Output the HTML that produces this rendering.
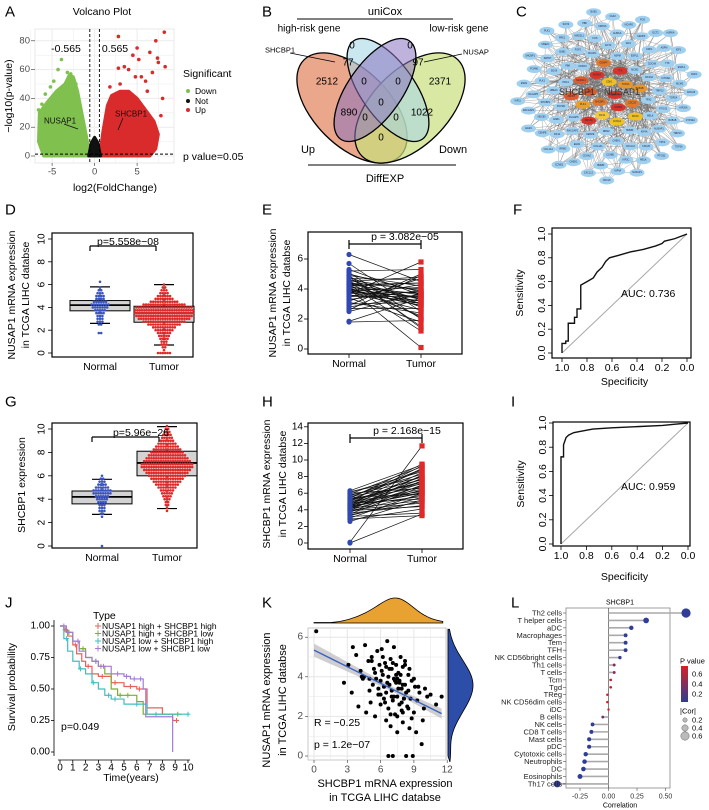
<!DOCTYPE html>
<html><head><meta charset="utf-8"><style>
html,body{margin:0;padding:0;background:#fff}
svg{display:block;font-family:"Liberation Sans",Arial,sans-serif}
</style></head><body>
<svg id="fig" width="709" height="810" viewBox="0 0 709 810">
<g stroke="#000" stroke-width="1.3">
<ellipse cx="352" cy="108" rx="68" ry="38" transform="rotate(45 352 108)" fill="#e48a64" fill-opacity="0.75"/>
<ellipse cx="410" cy="108" rx="68" ry="38" transform="rotate(-45 410 108)" fill="#c9df7e" fill-opacity="0.7"/>
<ellipse cx="388" cy="90" rx="60" ry="27" transform="rotate(55 388 90)" fill="#a9d7e6" fill-opacity="0.6"/>
<ellipse cx="375" cy="90" rx="60" ry="27" transform="rotate(-55 375 90)" fill="#8a73c0" fill-opacity="0.55"/>
</g>
</svg>
<script>
const NS='http://www.w3.org/2000/svg';
const svg=document.getElementById('fig');
function mk(parent,tag,attrs,name){
  const el=document.createElementNS(NS,tag);
  for(const k in attrs) el.setAttribute(k,attrs[k]);
  
  
  parent.appendChild(el);return el;
}
function T(x,y,s,size,name,extra){
  const a=Object.assign({x:x,y:y,'font-size':size,'dominant-baseline':'central',fill:'#000'},extra||{});
  const t=mk(svg,'text',a,name);t.textContent=s;return t;
}
function L(x1,y1,x2,y2,stroke,w,name,extra){return mk(svg,'line',Object.assign({x1,y1,x2,y2,stroke,'stroke-width':w},extra||{}),name);}

/* ===== DATA ===== */
const volcGreenFC=[-0.6,-0.7,-1,-1.5,-2,-2.5,-3,-3.5,-4.5,-5.5,-6.5,-6.6,-6];
const volcGreenP=[0,5,15,30,45,55,56,50,45,38,30,10,0];
const volcRedFC=[0.6,0.7,1,1.5,2,3,4,5,6,7,7.5,7.2,6.5];
const volcRedP=[0,5,18,35,42,45,45,40,32,24,15,5,0];
const volcNotFC=[-0.7,-0.4,0,0.4,0.7];
const volcNotP=[0,9,13,9,0];
const volcGreenOutFC=[-3.9,-4.3,-5.8,-6.6,-5.2,-3.2,-2.8,-6.2,-4.8,-2.2];
const volcGreenOutP=[67,60,43,32,48,58,57,36,52,50];
const volcRedOutFC=[2.8,7.2,8.2,7.4,5.2,8.3,2.8,4.5,6.5,3.5,6,7.5,5.5,4,3,6.2,4.8,1.8,8,7.8,6.8,5];
const volcRedOutP=[83,80,86,68,67,62,61,70,72,62,52,65,55,60,50,45,55,48,40,28,58,75];

const dNormalBins=[2,0,0,2,3,3,3,4,5,7,8,6,4,4,3,2,1,0,1];
const dTumorBins=[6,1,2,3,3,4,5,6,8,10,14,18,22,24,26,26,24,18,12,8,6,4,3,2,1];
const gNormalBins=[1,2,3,3,3,4,5,6,8,8,6,4,3,2,1];
const gTumorBins=[1,1,2,2,3,4,5,6,8,10,12,14,16,18,20,22,22,20,18,16,14,12,10,8,6,5,4,3,2,1];
const dNormalBox=[2.6,3.7,4.2,4.6,5.8];
const dTumorBox=[0.7,2.7,3.5,4.1,6.0];
const gNormalBox=[2.7,3.6,4.2,4.7,5.7];
const gTumorBox=[3.2,6.0,7.1,8.1,10.2];

const eNormal=[6.3,5.7,5.2,5.0,4.9,4.8,4.7,4.6,4.5,4.5,4.4,4.4,4.3,4.3,4.2,4.2,4.1,4.1,4.0,4.0,3.9,3.9,3.8,3.8,3.7,3.7,3.6,3.5,3.4,3.3,3.2,3.1,3.0,2.9,2.8,2.7,2.6,1.8,4.6,4.8,5.1,4.3,3.9,4.0,2.5,3.5,4.9,5.3,1.85,4.4];
const eTumor=[4.5,2.5,5.3,3.8,4.2,1.5,4.6,3.9,4.8,2.8,3.3,4.0,3.6,1.2,3.0,4.4,2.2,3.7,0.1,3.4,2.9,4.1,3.5,2.6,3.8,5.8,3.2,4.3,1.8,3.9,4.7,2.4,3.1,5.0,3.6,2.7,4.9,1.9,3.3,3.0,2.0,4.4,3.2,2.9,3.7,3.5,1.4,3.6,3.4,2.1];
const hNormal=[0.1,0.0,2.6,2.8,3.0,3.2,3.3,3.5,3.6,3.7,3.8,3.9,4.0,4.0,4.1,4.2,4.2,4.3,4.4,4.4,4.5,4.5,4.6,4.7,4.7,4.8,4.9,5.0,5.0,5.1,5.2,5.3,5.4,5.5,5.6,5.7,5.8,5.9,6.0,6.1,6.2,6.3,3.4,4.6,5.2,3.9,4.8,2.9,5.5,4.3];
const hTumor=[11.7,3.5,5.2,4.1,6.0,3.6,5.5,6.8,4.5,7.0,5.8,8.2,6.4,4.8,7.5,5.1,6.9,7.8,6.0,8.5,5.6,7.2,9.0,6.5,7.7,5.3,8.0,9.3,6.2,7.4,8.8,6.7,9.5,5.9,7.1,8.3,7.6,9.2,6.6,8.6,7.9,9.4,5.0,6.3,7.3,4.4,8.1,3.3,8.9,6.1];

const fSpec=[1,1,0.97,0.97,0.95,0.95,0.9,0.9,0.88,0.88,0.85,0.85,0.8,0.75,0.72,0.68,0.65,0.62,0.55,0.45,0.35,0.25,0.2,0.18,0.1,0.05,0];
const fSens=[0,0.08,0.08,0.1,0.1,0.25,0.25,0.3,0.3,0.37,0.37,0.57,0.6,0.63,0.68,0.72,0.77,0.8,0.82,0.85,0.87,0.9,0.92,0.94,0.96,0.98,1];
const iSpec=[1,1,0.98,0.98,0.97,0.96,0.94,0.9,0.85,0.75,0.6,0.4,0.2,0.1,0];
const iSens=[0,0.72,0.72,0.82,0.85,0.88,0.9,0.92,0.93,0.95,0.96,0.97,0.98,0.99,1];

const kmLabels=['NUSAP1 high + SHCBP1 high','NUSAP1 high + SHCBP1 low','NUSAP1 low + SHCBP1 high','NUSAP1 low + SHCBP1 low'];
const kmColors=['#e8605a','#7cae2e','#3fbfbf','#a77ad8'];
const kmT1=[0,0.3,0.6,1,1.3,1.7,2,2.5,3,4,5,6,6.8,8,8.8,9.3];
const kmS1=[1,0.97,0.92,0.85,0.78,0.72,0.68,0.62,0.6,0.55,0.52,0.5,0.35,0.3,0.25,0.25];
const kmT2=[0,0.5,1,1.5,2,2.5,3,3.5,4,4.5,6,6.5,9.5];
const kmS2=[1,0.95,0.88,0.82,0.75,0.72,0.68,0.62,0.5,0.45,0.4,0.3,0.3];
const kmT3=[0,0.3,0.6,1,1.5,2,2.5,3,3.5,4,5,6.8,10];
const kmS3=[1,0.9,0.8,0.72,0.66,0.62,0.55,0.5,0.45,0.42,0.38,0.3,0.3];
const kmT4=[0,0.5,1,1.5,2,2.5,3,4,5,5.5,6.5,6.7,8.8,8.8];
const kmS4=[1,0.95,0.88,0.8,0.75,0.72,0.68,0.62,0.6,0.58,0.5,0.28,0.28,0];
const kmCensor=[[0.4,1.2,2.2,3.3,4.3,5.5,6.2,9.1],[0.7,1.8,2.8,3.2,4.7,5.3,9.2],[0.5,1.6,2.6,3.8,4.3,6,7.5,10],[0.3,1.4,2.8,3.4,4.5,5.2,5.8,6.3]];

const kX=[0.2,2.7,3.1,3.4,3.8,4.0,4.2,4.4,4.6,4.7,4.9,5.0,5.1,5.2,5.3,5.4,5.5,5.6,5.7,5.8,5.9,6.0,6.0,6.1,6.2,6.3,6.3,6.4,6.5,6.5,6.6,6.7,6.7,6.8,6.9,6.9,7.0,7.0,7.1,7.2,7.2,7.3,7.4,7.4,7.5,7.5,7.6,7.7,7.7,7.8,7.9,7.9,8.0,8.0,8.1,8.2,8.2,8.3,8.4,8.5,8.5,8.6,8.7,8.8,8.9,9.0,9.1,9.2,9.3,9.5,9.7,9.9,10.2,10.5,11.0,11.5,5.0,5.5,6.0,6.5,7.0,7.5,8.0,8.5,9.0,6.2,6.8,7.3,7.8,8.3,5.8,6.4,7.1,7.6,8.1,8.6,4.5,5.2,6.6,7.2,7.9,8.8,9.4,6.9,7.4,8.2,6.7,7.1,7.5,8.0,3.5,4.3,9.8,10.0,6.1,7.7];
const kY=[6.3,3.7,4.6,3.2,5.1,2.5,4.3,3.9,5.6,2.2,4.8,3.3,2.7,5.0,3.6,4.4,2.0,3.9,5.3,3.1,4.6,2.6,3.8,5.4,4.1,2.9,3.5,4.7,1.8,3.2,5.8,4.0,2.4,3.6,4.9,1.5,3.3,4.4,2.8,3.9,5.5,2.1,3.7,4.6,1.2,3.0,4.2,2.6,3.8,5.0,2.3,3.4,4.5,1.7,2.9,3.6,4.8,0.0,2.5,3.3,4.1,1.4,2.9,3.8,0.0,2.2,3.5,1.2,2.8,3.2,0.6,2.4,3.0,3.1,2.6,3.0,3.9,4.2,3.1,4.5,3.0,2.0,3.6,2.4,3.9,5.0,4.4,3.8,4.1,3.2,3.4,2.7,4.7,3.4,2.9,4.4,4.0,4.8,3.7,3.0,2.7,1.9,3.5,2.1,4.1,4.6,0.0,0.0,3.9,2.2,5.5,4.0,1.8,3.4,4.3,3.7];

const lCells=['Th2 cells','T helper cells','aDC','Macrophages','Tem','TFH','NK CD56bright cells','Th1 cells','T cells','Tcm','Tgd','TReg','NK CD56dim cells','iDC','B cells','NK cells','CD8 T cells','Mast cells','pDC','Cytotoxic cells','Neutrophils','DC','Eosinophils','Th17 cells'];
const lCor=[0.68,0.33,0.2,0.15,0.15,0.15,0.1,0.05,0.05,0.02,0.02,-0.01,-0.01,0,-0.05,-0.14,-0.15,-0.17,-0.17,-0.2,-0.21,-0.22,-0.25,-0.45];
const lP=[0,0,0,0,0,0,0.05,0.35,0.35,0.6,0.65,0.75,0.8,0.9,0.3,0,0,0,0,0,0,0,0,0];
const corTicks=[-0.25,0,0.25,0.5];

const netGenes=['NUSAP1','SHCBP1','CDK1','CCNB1','BUB1','TOP2A','KIF11','AURKA','CDC20','PLK1','TTK','CCNA2','MAD2L1','BUB1B','NDC80','CENPF','KIF2C','ZWINT','MCM2','RRM2','CDKN3','TPX2','DLGAP5','ASPM','HMMR','PRC1','KIF20A','CENPE','NCAPG','MELK','FOXM1','ESPL1','CHEK1','PBK','TRIP13','RACGAP1','ECT2','KIF4A','UBE2C','CDCA8','COL1A1','FGF2','PTGS2','ESR1','IGF1','CXCL12','SOX9','CYP2E1','EGR1','FOS'];

/* ===== PANEL LETTERS ===== */
[['A',5,12],['B',262,12],['C',516,12],['D',5,210],['E',262,210],['F',513,210],['G',5,402],['H',262,402],['I',511,402],['J',5,603],['K',262,603],['L',511,603]].forEach(p=>{
  const t=T(p[1],p[2],p[0],15,'panel-label-'+p[0].toLowerCase());
});

/* ===== PANEL A VOLCANO ===== */
const xA=v=>94.6+8.5*v, yA=v=>156-1.44*v;
mk(svg,'rect',{x:35,y:29,width:139,height:134,fill:'#fff',stroke:'#d9d9d9','stroke-width':0.6},'volcano-panel');
[-7.5,-5,-2.5,0,2.5,5,7.5].forEach(v=>{L(xA(v),29,xA(v),163,'#ececec',v%5===0?1:0.5,'volcano-grid-x');});
[0,10,20,30,40,50,60,70,80].forEach(v=>{L(35,yA(v),174,yA(v),'#ececec',v%20===0?1:0.5,'volcano-grid-y');});
function poly(xs,ys,fx,fy,fill,name){
  const pts=xs.map((x,i)=>fx(x)+','+fy(ys[i])).join(' ');
  return mk(svg,'polygon',{points:pts,fill:fill,stroke:fill,'stroke-width':3,'stroke-linejoin':'round'},name);
}
poly(volcGreenFC,volcGreenP,xA,yA,'#7fc04e','volcano-down-cloud');
poly(volcRedFC,volcRedP,xA,yA,'#d92b2b','volcano-up-cloud');
poly(volcNotFC,volcNotP,xA,yA,'#111','volcano-not-cloud');
volcGreenOutFC.forEach((v,i)=>{mk(svg,'circle',{cx:xA(v),cy:yA(volcGreenOutP[i]),r:1.8,fill:'#7fc04e'},'volcano-down-point');});
volcRedOutFC.forEach((v,i)=>{mk(svg,'circle',{cx:xA(v),cy:yA(volcRedOutP[i]),r:1.8,fill:'#d92b2b'},'volcano-up-point');});
L(xA(-0.565),29,xA(-0.565),163,'#000',0.9,'volcano-threshold-left',{'stroke-dasharray':'3,2'});
L(xA(0.565),29,xA(0.565),163,'#000',0.9,'volcano-threshold-right',{'stroke-dasharray':'3,2'});
L(35,yA(1.3),174,yA(1.3),'#000',0.9,'volcano-pvalue-line',{'stroke-dasharray':'3,2'});
[0,20,40,60,80].forEach(v=>{T(30,yA(v),String(v),9.5,'volcano-y-tick',{'text-anchor':'end',fill:'#4d4d4d'});L(31,yA(v),35,yA(v),'#333',0.6,'volcano-y-tickmark');});
[-5,0,5].forEach(v=>{T(xA(v),172,String(v),9.5,'volcano-x-tick',{'text-anchor':'middle',fill:'#4d4d4d'});L(xA(v),163,xA(v),166,'#333',0.6,'volcano-x-tickmark');});
T(102,12,'Volcano Plot',10.5,'volcano-title',{'text-anchor':'middle'});
T(66,49,'-0.565',10.5,'volcano-left-threshold-label',{'text-anchor':'middle'});
T(115,49,'0.565',10.5,'volcano-right-threshold-label',{'text-anchor':'middle'});
T(115,188,'log2(FoldChange)',10.5,'volcano-x-title',{'text-anchor':'middle'});
T(9,96,'−log10(p-value)',10.5,'volcano-y-title',{'text-anchor':'middle',transform:'rotate(-90 9 96)'});
T(183,74,'Significant',10.5,'volcano-legend-title');
[['Down','#7fc04e',91],['Not','#111',101],['Up','#d92b2b',110]].forEach(e=>{mk(svg,'circle',{cx:188,cy:e[2],r:2,fill:e[1]},'volcano-legend-dot');T(195,e[2],e[0],8.5,'volcano-legend-label');});
T(183,157,'p value=0.05',10.5,'volcano-pvalue-label');
T(44,121,'NUSAP1',8,'nusap1-annotation',{fill:'#111'});
L(64,124,78,129,'#111',0.8,'nusap1-arrow');
T(115,114,'SHCBP1',8,'shcbp1-annotation',{fill:'#111'});
L(123,118,118,130,'#111',0.8,'shcbp1-arrow');

/* ===== PANEL B VENN text ===== */
T(385,12,'uniCox',11,'venn-unicox-title',{'text-anchor':'middle'});
L(297,19,453,19,'#000',1,'venn-unicox-line');
T(309,29,'high-risk gene',10,'venn-high-risk-label',{'text-anchor':'middle'});
T(459,29,'low-risk gene',10,'venn-low-risk-label',{'text-anchor':'middle'});
T(265,50,'SHCBP1',7.5,'venn-shcbp1-label');
L(290,53,335,62,'#000',0.8,'venn-shcbp1-arrow');
T(463,52,'NUSAP',7.5,'venn-nusap-label');
L(462,54,424,62,'#000',0.8,'venn-nusap-arrow');
[['0',352,46],['0',410,46],['77',348,63],['97',418,63],['2512',327,82],['0',364,82],['0',398,82],['2371',440,82],['0',381,103],['890',349,113],['1022',422,113],['0',365,118],['0',396,118],['0',381,138]].forEach(n=>{T(n[1],n[2],n[0],10,'venn-count',{'text-anchor':'middle'});});
T(308,150,'Up',11,'venn-up-label',{'text-anchor':'middle'});
T(453,150,'Down',11,'venn-down-label',{'text-anchor':'middle'});
L(308,165,456,165,'#000',1,'venn-diffexp-line');
T(385,179,'DiffEXP',11,'venn-diffexp-title',{'text-anchor':'middle'});

/* ===== PANEL C NETWORK ===== */
(function(){
  const n=110, cx=608, cy=95, Rx=92, Ry=86;
  const pos=[];
  for(let i=0;i<n;i++){
    const r=Math.sqrt((i+0.6)/n), a=i*2.39996;
    pos.push([cx+Rx*r*Math.cos(a), cy+Ry*r*Math.sin(a)]);
  }
  const eg=mk(svg,'g',{stroke:'#6a6a6a','stroke-width':0.35,'stroke-opacity':0.8},'network-edges');
  for(let i=0;i<n;i++){
    const targets=[(i*37+11)%n,(i*13+5)%n,(i*7+3)%30];
    if(i<30){for(let k=0;k<8;k++) targets.push((i*11+k*17+4)%n);}
    targets.forEach(j=>{if(j!==i){const e=mk(eg,'line',{x1:pos[i][0],y1:pos[i][1],x2:pos[j][0],y2:pos[j][1]},'network-edge');}});
  }
  const hubColors=['#d8342a','#e07a2a','#f0c020','#d8342a','#e05a2a','#e8962a','#f2c83a','#d8342a','#e07a2a','#e8a02a','#d8342a','#f0c020','#e05a2a','#e8962a','#d8342a','#e07a2a','#f0c020','#e05a2a'];
  for(let i=0;i<n;i++){
    const fill=i<18?hubColors[i]:'#9fd0f0';
    const nd=mk(svg,'ellipse',{cx:pos[i][0],cy:pos[i][1],rx:7.5,ry:4,fill:fill},'network-node');
    T(pos[i][0],pos[i][1],netGenes[i%netGenes.length],2.4,'network-node-label',{'text-anchor':'middle',fill:'#224'});
  }
  T(577,92,'SHCBP1',9,'network-shcbp1-label',{'text-anchor':'middle',fill:'#333'});
  T(622,92,'NUSAP1',9,'network-nusap1-label',{'text-anchor':'middle',fill:'#333'});
})();

/* ===== BOX + BEESWARM ===== */
function boxPanel(cfg){
  const y=cfg.y;
  mk(svg,'rect',{x:cfg.x0,y:cfg.y0,width:cfg.x1-cfg.x0,height:cfg.y1-cfg.y0,fill:'none',stroke:'#000','stroke-width':1.2},cfg.p+'-frame');
  cfg.ticks.forEach(v=>{L(cfg.x0-4,y(v),cfg.x0,y(v),'#000',0.8,cfg.p+'-y-tickmark');T(cfg.x0-10,y(v),String(v),10,cfg.p+'-y-tick',{'text-anchor':'middle',transform:'rotate(-90 '+(cfg.x0-10)+' '+y(v)+')'});});
  [[cfg.xn,'Normal',cfg.nBox],[cfg.xt,'Tumor',cfg.tBox]].forEach(g=>{
    const b=g[2],xc=g[0],w=30;
    L(xc-10,y(b[0]),xc+10,y(b[0]),'#000',1.2,cfg.p+'-whisker-cap');
    L(xc-10,y(b[4]),xc+10,y(b[4]),'#000',1.2,cfg.p+'-whisker-cap');
    L(xc,y(b[0]),xc,y(b[1]),'#000',0.8,cfg.p+'-whisker',{'stroke-dasharray':'3,2'});
    L(xc,y(b[3]),xc,y(b[4]),'#000',0.8,cfg.p+'-whisker',{'stroke-dasharray':'3,2'});
    mk(svg,'rect',{x:xc-w,y:y(b[3]),width:2*w,height:y(b[1])-y(b[3]),fill:'#d3d3d3',stroke:'#000','stroke-width':1},cfg.p+'-box');
    L(xc-w,y(b[2]),xc+w,y(b[2]),'#000',1.8,cfg.p+'-median');
    T(xc,cfg.y1+10,g[1],10.5,cfg.p+'-x-tick',{'text-anchor':'middle'});
  });
  function swarm(bins,start,xc,color,name){
    bins.forEach((c,i)=>{
      const v=start+i*0.25;const sp=Math.min(2.4,60/Math.max(c,1));
      for(let k=0;k<c;k++){mk(svg,'circle',{cx:xc+(k-(c-1)/2)*sp,cy:y(v),r:1.3,fill:color},name);}
    });
  }
  swarm(cfg.nBins,cfg.nStart,cfg.xn,'#3b55c0',cfg.p+'-normal-point');
  swarm(cfg.tBins,cfg.tStart,cfg.xt,'#e02a2a',cfg.p+'-tumor-point');
  (cfg.nOut||[]).forEach(v=>mk(svg,'circle',{cx:cfg.xn,cy:y(v),r:1.3,fill:'#3b55c0'},cfg.p+'-normal-point'));
  L(cfg.xn-10,cfg.by,cfg.xt-8,cfg.by,'#000',1.2,cfg.p+'-bracket');
  L(cfg.xn-10,cfg.by,cfg.xn-10,cfg.by+5,'#000',1.2,cfg.p+'-bracket');
  L(cfg.xt-8,cfg.by,cfg.xt-8,cfg.by+5,'#000',1.2,cfg.p+'-bracket');
  T(cfg.px,cfg.by-4,cfg.ptext,10.5,cfg.p+'-pvalue',{'text-anchor':'middle'});
}
boxPanel({p:'d',x0:52,x1:193,y0:233,y1:357,y:v=>353-11.4*v,ticks:[0,2,4,6,8,10],xn:100,xt:164,nBox:dNormalBox,tBox:dTumorBox,nBins:dNormalBins,nStart:1.75,tBins:dTumorBins,tStart:0,by:246,px:128,ptext:'p=5.558e−08'});
T(12,295,'NUSAP1 mRNA expression',10.5,'d-y-title-1',{'text-anchor':'middle',transform:'rotate(-90 12 295)'});
T(26,295,'in TCGA LIHC databse',10.5,'d-y-title-2',{'text-anchor':'middle',transform:'rotate(-90 26 295)'});
boxPanel({p:'g',x0:52,x1:197,y0:423,y1:548,y:v=>546-11.7*v,ticks:[0,2,4,6,8,10],xn:102,xt:167,nBox:gNormalBox,tBox:gTumorBox,nBins:gNormalBins,nStart:2.5,nOut:[0],tBins:gTumorBins,tStart:3,by:437,px:141,ptext:'p=5.96e−26'});
T(22,485,'SHCBP1 expression',10.5,'g-y-title',{'text-anchor':'middle',transform:'rotate(-90 22 485)'});

/* ===== PAIRED PANELS ===== */
function pairPanel(cfg){
  const y=cfg.y;
  mk(svg,'rect',{x:cfg.x0,y:cfg.y0,width:cfg.x1-cfg.x0,height:cfg.y1-cfg.y0,fill:'none',stroke:'#000','stroke-width':1.2},cfg.p+'-frame');
  cfg.ticks.forEach(v=>{L(cfg.x0-4,y(v),cfg.x0,y(v),'#000',0.8,cfg.p+'-y-tickmark');T(cfg.x0-5,y(v),String(v),10,cfg.p+'-y-tick',{'text-anchor':'end'});});
  cfg.nv.forEach((v,i)=>{L(cfg.xn,y(v),cfg.xt,y(cfg.tv[i]),'#111',0.7,cfg.p+'-pair-line');});
  cfg.nv.forEach(v=>mk(svg,'circle',{cx:cfg.xn,cy:y(v),r:2.6,fill:'#3048b0'},cfg.p+'-normal-point'));
  cfg.tv.forEach(v=>mk(svg,'rect',{x:cfg.xt-2.6,y:y(v)-2.6,width:5.2,height:5.2,fill:'#e02a2a'},cfg.p+'-tumor-point'));
  [[cfg.xn,'Normal'],[cfg.xt,'Tumor']].forEach(g=>{L(g[0],cfg.y1,g[0],cfg.y1+4,'#000',0.8,cfg.p+'-x-tickmark');T(g[0],cfg.y1+10,g[1],10.5,cfg.p+'-x-tick',{'text-anchor':'middle'});});
  L(cfg.xn,cfg.by,cfg.xt,cfg.by,'#000',1.2,cfg.p+'-bracket');
  L(cfg.xn,cfg.by-4,cfg.xn,cfg.by+5,'#000',1.2,cfg.p+'-bracket');
  L(cfg.xt,cfg.by-4,cfg.xt,cfg.by+5,'#000',1.2,cfg.p+'-bracket');
  T(cfg.px,cfg.by-7,cfg.ptext,10.5,cfg.p+'-pvalue',{'text-anchor':'middle'});
}
pairPanel({p:'e',x0:308,x1:462,y0:232,y1:354,y:v=>349-15*v,ticks:[0,2,4,6],xn:349,xt:421,nv:eNormal,tv:eTumor,by:244,px:405,ptext:'p = 3.082e−05'});
T(273,293,'NUSAP1 mRNA expression',10.5,'e-y-title-1',{'text-anchor':'middle',transform:'rotate(-90 273 293)'});
T(287,293,'in TCGA LIHC databse',10.5,'e-y-title-2',{'text-anchor':'middle',transform:'rotate(-90 287 293)'});
pairPanel({p:'h',x0:308,x1:463,y0:423,y1:549,y:v=>543-8.3*v,ticks:[0,2,4,6,8,10,12,14],xn:350,xt:422,nv:hNormal,tv:hTumor,by:438,px:407,ptext:'p = 2.168e−15'});
T(267,484,'SHCBP1 mRNA expression',10.5,'h-y-title-1',{'text-anchor':'middle',transform:'rotate(-90 267 484)'});
T(283,484,'in TCGA LIHC databse',10.5,'h-y-title-2',{'text-anchor':'middle',transform:'rotate(-90 283 484)'});

/* ===== ROC ===== */
function rocPanel(cfg){
  const x=s=>cfg.xa+(1-s)*(cfg.xb-cfg.xa), y=v=>cfg.ya-v*(cfg.ya-cfg.yb);
  mk(svg,'rect',{x:cfg.bx0,y:cfg.by0,width:cfg.bx1-cfg.bx0,height:cfg.by1-cfg.by0,fill:'none',stroke:'#000','stroke-width':1.2},cfg.p+'-frame');
  L(x(1),y(0),x(0),y(1),'#a8a8a8',1,cfg.p+'-diagonal');
  const d=cfg.spec.map((s,i)=>(i?'L':'M')+x(s)+','+y(cfg.sens[i])).join(' ');
  mk(svg,'path',{d:d,fill:'none',stroke:'#111','stroke-width':1.4},cfg.p+'-roc-curve');
  [1,0.8,0.6,0.4,0.2,0].forEach(v=>{L(x(v),cfg.by1,x(v),cfg.by1+4,'#000',0.8,cfg.p+'-x-tickmark');T(x(v),cfg.by1+10,v.toFixed(1),10.5,cfg.p+'-x-tick',{'text-anchor':'middle'});});
  cfg.yt.forEach(v=>{L(cfg.bx0-4,y(v),cfg.bx0,y(v),'#000',0.8,cfg.p+'-y-tickmark');const lab=cfg.p==='i'&&v===1?'1.0':v.toFixed(1);T(cfg.bx0-10,y(v),lab,10.5,cfg.p+'-y-tick',{'text-anchor':'middle',transform:'rotate(-90 '+(cfg.bx0-10)+' '+y(v)+')'});});
  T(cfg.bx0-32,(cfg.by0+cfg.by1)/2,'Sensitivity',10.5,cfg.p+'-y-title',{'text-anchor':'middle',transform:'rotate(-90 '+(cfg.bx0-32)+' '+((cfg.by0+cfg.by1)/2)+')'});
  T((cfg.xa+cfg.xb)/2,cfg.sy,'Specificity',10.5,cfg.p+'-x-title',{'text-anchor':'middle'});
  T(cfg.ax,cfg.ay,cfg.auc,10.5,cfg.p+'-auc');
}
rocPanel({p:'f',xa:562,xb:687,ya:353,yb:234,bx0:552,bx1:691,by0:228,by1:358,spec:fSpec,sens:fSens,yt:[0,0.2,0.4,0.6,0.8,1],sy:382,ax:621,ay:294,auc:'AUC: 0.736'});
rocPanel({p:'i',xa:561,xb:688,ya:544,yb:423,bx0:553,bx1:690,by0:422,by1:546,spec:iSpec,sens:iSens,yt:[0,0.2,0.4,0.6,0.8,1],sy:577,ax:621,ay:487,auc:'AUC: 0.959'});

/* ===== PANEL J KM ===== */
(function(){
  const x=t=>60+12.8*t, y=s=>752-126*s;
  L(54,620,54,756,'#000',0.8,'km-y-axis');L(58,760,190,760,'#000',0.8,'km-x-axis');
  [0,0.25,0.5,0.75,1].forEach(v=>{L(51,y(v),54,y(v),'#000',0.8,'km-y-tickmark');T(50,y(v),v.toFixed(2),10,'km-y-tick',{'text-anchor':'end'});});
  for(let t=0;t<=10;t++){L(x(t),760,x(t),763,'#000',0.8,'km-x-tickmark');T(x(t),768,String(t),10,'km-x-tick',{'text-anchor':'middle'});}
  const Ts=[kmT1,kmT2,kmT3,kmT4],Ss=[kmS1,kmS2,kmS3,kmS4];
  Ts.forEach((ts,c)=>{
    let d='M'+x(ts[0])+','+y(Ss[c][0]);
    for(let i=1;i<ts.length;i++){d+=' H'+x(ts[i])+' V'+y(Ss[c][i]);}
    mk(svg,'path',{d:d,fill:'none',stroke:kmColors[c],'stroke-width':1.2},'km-curve');
    kmCensor[c].forEach(tc=>{let s=1;for(let i=0;i<ts.length;i++){if(ts[i]<=tc)s=Ss[c][i];}
      L(x(tc)-2.5,y(s),x(tc)+2.5,y(s),kmColors[c],1,'km-censor');L(x(tc),y(s)-2.5,x(tc),y(s)+2.5,kmColors[c],1,'km-censor');});
  });
  T(93,616,'Type',10.5,'km-legend-title');
  kmLabels.forEach((l,i)=>{const yy=626+7.5*i;L(95,yy,101,yy,kmColors[i],1,'km-legend-line');L(98,yy-3,98,yy+3,kmColors[i],1,'km-legend-line');T(102,yy,l,8.5,'km-legend-label');});
  T(61,727,'p=0.049',10.5,'km-pvalue');
  T(131,778,'Time(years)',10.5,'km-x-title',{'text-anchor':'middle'});
  T(12,687,'Survival probability',10.5,'km-y-title',{'text-anchor':'middle',transform:'rotate(-90 12 687)'});
})();

/* ===== PANEL K SCATTER ===== */
(function(){
  const x=v=>314+11.1*v, y=v=>756-19.8*v;
  mk(svg,'rect',{x:308,y:628,width:138,height:132,fill:'#fff',stroke:'#bdbdbd','stroke-width':0.8},'scatter-panel');
  [0,1.5,3,4.5,6,7.5,9,10.5,12].forEach(v=>L(x(v),628,x(v),760,'#e6e6e6',v%3===0?1:0.5,'scatter-grid-x'));
  [0,1,2,3,4,5,6].forEach(v=>L(308,y(v),446,y(v),'#e6e6e6',v%2===0?1:0.5,'scatter-grid-y'));
  const n=Math.min(kX.length,kY.length);
  let mx=0,my=0;for(let i=0;i<n;i++){mx+=kX[i];my+=kY[i];}mx/=n;my/=n;
  let sxy=0,sxx=0;for(let i=0;i<n;i++){sxy+=(kX[i]-mx)*(kY[i]-my);sxx+=(kX[i]-mx)**2;}
  const b=sxy/sxx,a=my-b*mx;
  const band=[];for(let v=0;v<=11.5;v+=0.5){band.push([v,a+b*v+0.12+0.03*Math.abs(v-mx)]);}
  const band2=[];for(let v=11.5;v>=0;v-=0.5){band2.push([v,a+b*v-0.12-0.03*Math.abs(v-mx)]);}
  mk(svg,'polygon',{points:band.concat(band2).map(p=>x(p[0])+','+y(p[1])).join(' '),fill:'#bbb','fill-opacity':0.7},'scatter-ci-band');
  for(let i=0;i<n;i++){mk(svg,'circle',{cx:x(kX[i]),cy:y(kY[i]),r:2,fill:'#000'},'scatter-point');}
  L(x(0),y(a),x(11.5),y(a+b*11.5),'#3b5fc4',1.4,'scatter-regression-line');
  [0,3,6,9,12].forEach(v=>{L(x(v),760,x(v),763,'#333',0.6,'scatter-x-tickmark');T(x(v),770,String(v),10,'scatter-x-tick',{'text-anchor':'middle',fill:'#4d4d4d'});});
  [0,2,4,6].forEach(v=>{L(305,y(v),308,y(v),'#333',0.6,'scatter-y-tickmark');T(303,y(v),String(v),10,'scatter-y-tick',{'text-anchor':'end',fill:'#4d4d4d'});});
  const kde=(arr,v,h)=>arr.reduce((s,u)=>s+Math.exp(-0.5*((v-u)/h)**2),0);
  let top='M'+x(0)+',623',mt=0;const tv=[];
  for(let v=0;v<=11.6;v+=0.2){const d=kde(kX,v,0.9);tv.push([v,d]);mt=Math.max(mt,d);}
  tv.forEach(p=>{top+=' L'+x(p[0])+','+(623-25*p[1]/mt);});top+=' L'+x(11.6)+',623 Z';
  mk(svg,'path',{d:top,fill:'#e8a232',stroke:'#000','stroke-width':0.8},'scatter-top-density');
  let rt='M448,'+y(0),mr=0;const rv=[];
  for(let v=-0.3;v<=6.4;v+=0.1){const d=kde(kY,v,0.55);rv.push([v,d]);mr=Math.max(mr,d);}
  rv.forEach(p=>{rt+=' L'+(448+25*p[1]/mr)+','+y(p[0]);});rt+=' L448,'+y(6.4)+' Z';
  mk(svg,'path',{d:rt,fill:'#2d4ea8',stroke:'#000','stroke-width':0.8},'scatter-right-density');
  T(314,723,'R = −0.25',10.5,'scatter-r-label');
  T(314,745,'p = 1.2e−07',10.5,'scatter-p-label');
  T(267,700,'NUSAP1 mRNA expression',11,'scatter-y-title-1',{'text-anchor':'middle',transform:'rotate(-90 267 700)'});
  T(283,700,'in TCGA LIHC databse',11,'scatter-y-title-2',{'text-anchor':'middle',transform:'rotate(-90 283 700)'});
  T(385,784,'SHCBP1 mRNA expression',11,'scatter-x-title-1',{'text-anchor':'middle'});
  T(385,798,'in TCGA LIHC databse',11,'scatter-x-title-2',{'text-anchor':'middle'});
})();

/* ===== PANEL L LOLLIPOP ===== */
(function(){
  const x=v=>608.5+114*v, y=i=>613+7.43*i;
  mk(svg,'rect',{x:566,y:608,width:104,height:180,fill:'#fff',stroke:'#888','stroke-width':0.8},'lollipop-panel');
  L(x(0),608,x(0),788,'#333',0.6,'lollipop-zero-line');
  T(620,603,'SHCBP1',7,'lollipop-title',{'text-anchor':'middle'});
  const col=p=>{const t=Math.min(p/0.7,1);const r=Math.round(47+(214-47)*t),g=Math.round(61+(32-61)*t),b=Math.round(150+(32-150)*t);return 'rgb('+r+','+g+','+b+')';};
  lCells.forEach((c,i)=>{
    L(x(0),y(i),x(lCor[i]),y(i),'#aaa',1.6,'lollipop-stem');
    mk(svg,'circle',{cx:x(lCor[i]),cy:y(i),r:1.2+5*Math.abs(lCor[i]),fill:col(lP[i])},'lollipop-dot');
    L(563,y(i),566,y(i),'#333',0.5,'lollipop-y-tickmark');
    T(562,y(i),c,7.5,'lollipop-cell-label',{'text-anchor':'end',fill:'#222'});
  });
  corTicks.forEach(v=>{L(x(v),788,x(v),791,'#333',0.5,'lollipop-x-tickmark');T(x(v),797,v.toFixed(2),7,'lollipop-x-tick',{'text-anchor':'middle',fill:'#333'});});
  T(620,806,'Correlation',7,'lollipop-x-title',{'text-anchor':'middle'});
  T(680,661,'P value',7.5,'legend-pvalue-title');
  const gd=mk(svg,'linearGradient',{id:'pg',x1:0,y1:0,x2:0,y2:1},'pvalue-gradient');
  [[0,'#d62020'],[1,'#2f3d96']].forEach(s=>{mk(gd,'stop',{offset:s[0],'stop-color':s[1]},'gradient-stop');});
  mk(svg,'rect',{x:681,y:666,width:7,height:36,fill:'url(#pg)'},'legend-pvalue-colorbar');
  [['0.6',674],['0.4',684],['0.2',694]].forEach(e=>T(692,e[1],e[0],7.5,'legend-pvalue-tick'));
  T(680,711,'|Cor|',7.5,'legend-cor-title');
  [[0.2,720],[0.4,728],[0.6,736]].forEach(e=>{mk(svg,'circle',{cx:685,cy:e[1],r:1.2+5*e[0],fill:'#bbb',stroke:'#666','stroke-width':0.5},'legend-cor-circle');T(692,e[1],String(e[0]),7.5,'legend-cor-label');});
})();
</script>
</body></html>
